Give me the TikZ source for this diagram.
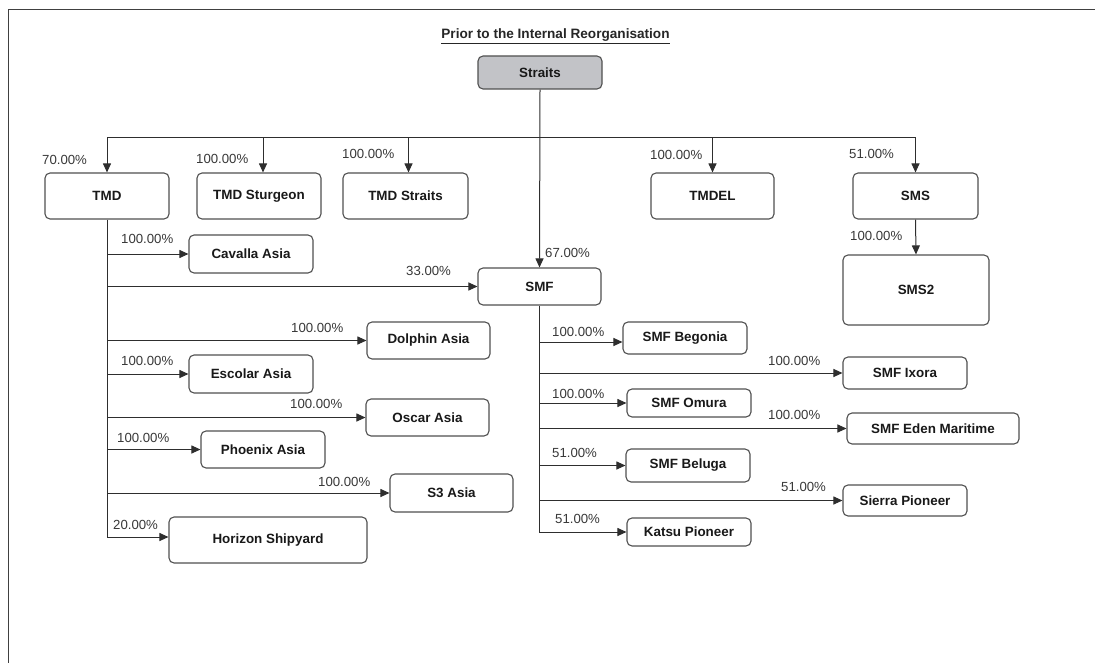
\documentclass[tikz,border=0pt]{standalone}
\usepackage{fontspec}
\setmainfont{Liberation Sans}
\usetikzlibrary{arrows.meta}
\definecolor{linec}{HTML}{2E2E2E}
\definecolor{boxc}{HTML}{505050}
\definecolor{pctc}{HTML}{383838}
\definecolor{topfill}{HTML}{C2C3C7}
\tikzset{
  ent/.style={draw=boxc, line width=1.1pt, rounded corners=5pt, fill=white,
    font=\fontsize{13.4}{15}\selectfont\bfseries, inner sep=0pt, text=black!90},
  conn/.style={draw=linec, line width=1pt},
  arr/.style={conn, -{Triangle[length=9pt,width=8pt]}},
  pct/.style={font=\fontsize{13.2}{15}\selectfont, text=pctc, inner sep=0pt, anchor=west},
  frameline/.style={draw=black!75, line width=0.9pt}
}
\newcommand{\ent}[6]{\node[ent, minimum width=#4pt, minimum height=#5pt] (#1) at (#2,#3) {#6};}
\begin{document}
\begin{tikzpicture}[x=1pt,y=-1pt]
\useasboundingbox (0,0) rectangle (1095,663);
\draw[frameline] (8,663) -- (8,9) -- (1095,9);
\node[inner sep=0pt, font=\fontsize{13.6}{15}\selectfont\bfseries, text=black!85] (title) at (555.5,35) {Prior to the Internal Reorganisation};
\draw[draw=black!85, line width=0.9pt] ([yshift=-2pt]title.south west) -- ([yshift=-2pt]title.south east);

% entities
\node[ent, fill=topfill, minimum width=124pt, minimum height=33pt] (straits) at (540,72.5) {Straits};
\ent{tmd}{107}{196}{124}{46}{TMD}
\ent{sturgeon}{259}{196}{124}{46}{TMD Sturgeon}
\ent{tmdstraits}{405.5}{196}{125}{46}{TMD Straits}
\ent{tmdel}{712.5}{196}{123}{46}{TMDEL}
\ent{sms}{915.5}{196}{125}{46}{SMS}
\ent{sms2}{916}{290}{146}{70}{SMS2}
\ent{smf}{539.5}{286.5}{123}{37}{SMF}
\ent{cavalla}{251}{254}{124}{38}{Cavalla Asia}
\ent{dolphin}{428.5}{340.5}{123}{37}{Dolphin Asia}
\ent{escolar}{251}{374}{124}{38}{Escolar Asia}
\ent{oscar}{427.5}{417.5}{123}{37}{Oscar Asia}
\ent{phoenix}{263}{449.5}{124}{37}{Phoenix Asia}
\ent{s3}{451.5}{493}{123}{38}{S3 Asia}
\ent{horizon}{268}{540}{198}{46}{Horizon Shipyard}
\ent{begonia}{685}{338}{124}{32}{SMF Begonia}
\ent{ixora}{905}{373}{124}{32}{SMF Ixora}
\ent{omura}{689}{403}{124}{28}{SMF Omura}
\ent{eden}{933}{428.5}{172}{31}{SMF Eden Maritime}
\ent{beluga}{688}{465.5}{124}{33}{SMF Beluga}
\ent{sierra}{905}{500.5}{124}{31}{Sierra Pioneer}
\ent{katsu}{689}{532}{124}{28}{Katsu Pioneer}

% connectors from Straits
\coordinate (bus) at (540,138);
\coordinate (stin) at ([xshift=4pt]sturgeon.north);
\coordinate (tsin) at ([xshift=3pt]tmdstraits.north);
\coordinate (hzin) at ([yshift=3pt]horizon.west);
\coordinate (bgin) at ([yshift=-4pt]begonia.west);
\draw[arr] (straits.south) -- (smf.north);
\draw[arr] (bus) -| (tmd.north);
\draw[arr] (bus) -| (stin);
\draw[arr] (bus) -| (tsin);
\draw[arr] (bus) -| (tmdel.north);
\draw[arr] (bus) -| (sms.north);
\draw[arr] (sms.south) -- (sms2.north);

% TMD subsidiaries
\draw[arr] (tmd.south) |- (hzin);
\draw[arr] (tmd.south |- cavalla.west) -- (cavalla.west);
\draw[arr] (tmd.south |- smf.west) -- (smf.west);
\draw[arr] (tmd.south |- dolphin.west) -- (dolphin.west);
\draw[arr] (tmd.south |- escolar.west) -- (escolar.west);
\draw[arr] (tmd.south |- oscar.west) -- (oscar.west);
\draw[arr] (tmd.south |- phoenix.west) -- (phoenix.west);
\draw[arr] (tmd.south |- s3.west) -- (s3.west);

% SMF subsidiaries
\draw[arr] (smf.south) |- (katsu.west);
\draw[arr] (smf.south |- bgin) -- (bgin);
\draw[arr] (smf.south |- ixora.west) -- (ixora.west);
\draw[arr] (smf.south |- omura.west) -- (omura.west);
\draw[arr] (smf.south |- eden.west) -- (eden.west);
\draw[arr] (smf.south |- beluga.west) -- (beluga.west);
\draw[arr] (smf.south |- sierra.west) -- (sierra.west);

% percentages
\node[pct] (p1) at (42,160) {70.00\%};
\node[pct] (p2) at (196,159) {100.00\%};
\node[pct] (p3) at (342,154) {100.00\%};
\node[pct] (p4) at (650,155) {100.00\%};
\node[pct] (p5) at (849,154) {51.00\%};
\node[pct] (p6) at (850,235.5) {100.00\%};
\node[pct] (p7) at (545,253) {67.00\%};
\node[pct] (p8) at (406,271) {33.00\%};
\node[pct] (p9) at (121,239) {100.00\%};
\node[pct] (p10) at (291,328) {100.00\%};
\node[pct] (p11) at (121,361) {100.00\%};
\node[pct] (p12) at (290,404) {100.00\%};
\node[pct] (p13) at (117,438) {100.00\%};
\node[pct] (p14) at (318,482) {100.00\%};
\node[pct] (p15) at (113,525) {20.00\%};
\node[pct] (p16) at (552,332) {100.00\%};
\node[pct] (p17) at (552,394) {100.00\%};
\node[pct] (p18) at (768,361) {100.00\%};
\node[pct] (p19) at (768,415) {100.00\%};
\node[pct] (p20) at (552,453) {51.00\%};
\node[pct] (p21) at (555,519) {51.00\%};
\node[pct] (p22) at (781,487) {51.00\%};
\end{tikzpicture}
\end{document}
